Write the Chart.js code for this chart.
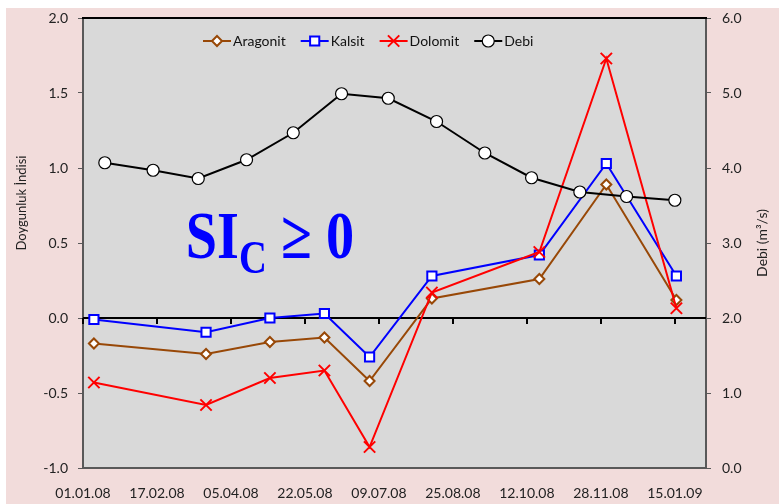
<!DOCTYPE html>
<html>
<head>
<meta charset="utf-8">
<script src="https://cdn.jsdelivr.net/npm/chart.js@4.4.0/dist/chart.umd.min.js"></script>
<style>
  html, body { margin: 0; padding: 0; background: #fff; }
  #wrap { position: absolute; left: 6px; top: 8px; width: 773px; height: 496px; background: #f2dcdb; }
</style>
</head>
<body>
<div id="wrap"><canvas id="chart"></canvas></div>
<script>
// ── Data ──────────────────────────────────────────────────────────────────
const siDates  = ['2008-01-08', '2008-03-20', '2008-04-30', '2008-06-04', '2008-07-03',
                  '2008-08-12', '2008-10-20', '2008-12-02', '2009-01-16'];
const aragonit = [-0.17, -0.24, -0.16, -0.13, -0.42, 0.13, 0.26, 0.89, 0.12];
const kalsit   = [-0.01, -0.095, 0.00, 0.03, -0.26, 0.28, 0.42, 1.03, 0.28];
const dolomit  = [-0.43, -0.58, -0.40, -0.35, -0.86, 0.17, 0.44, 1.73, 0.065];

const debiDates = ['2008-01-15', '2008-02-15', '2008-03-15', '2008-04-15', '2008-05-15',
                   '2008-06-15', '2008-07-15', '2008-08-15', '2008-09-15', '2008-10-15',
                   '2008-11-15', '2008-12-15', '2009-01-15'];
const debi      = [4.07, 3.97, 3.86, 4.11, 4.47, 4.99, 4.93, 4.62, 4.20, 3.87, 3.68, 3.62, 3.57];

const xTickLabels = ['01.01.08', '17.02.08', '05.04.08', '22.05.08', '09.07.08',
                     '25.08.08', '12.10.08', '28.11.08', '15.01.09'];
const xTickStep = 47.5;   // days
const xMaxDays  = 400;

const seriesNames = ['Aragonit', 'Kalsit', 'Dolomit', 'Debi'];
const leftTitle   = 'Doygunluk İndisi';
const rightTitle  = 'Debi (m³/s)';

// ── Helpers ───────────────────────────────────────────────────────────────
const DAY0  = Date.UTC(2008, 0, 1);
const toDay = s => (Date.parse(s + 'T00:00:00Z') - DAY0) / 86400000;
const pts   = (dates, vals) => dates.map((d, i) => ({ x: toDay(d), y: vals[i] }));

const FONT = 'Lato, "Open Sans", sans-serif';
Chart.defaults.font.family = FONT;
Chart.defaults.font.size   = 14;
Chart.defaults.color       = '#222';

const styles = [
  { color: '#984807', pointStyle: 'rectRot',  radius: 5,   bw: 2 },
  { color: '#0000ff', pointStyle: 'rect',     radius: 6.5, bw: 2 },
  { color: '#ff0000', pointStyle: 'crossRot', radius: 8,   bw: 2 },
  { color: '#000000', pointStyle: 'circle',   radius: 6,   bw: 1.2 },
];

function series(i, data, axis, order) {
  const s = styles[i];
  return {
    label: seriesNames[i],
    data,
    yAxisID: axis,
    order,
    borderColor: s.color,
    borderWidth: 2,
    pointStyle: s.pointStyle,
    pointRadius: s.radius,
    pointBorderColor: s.color,
    pointBackgroundColor: '#fff',
    pointBorderWidth: s.bw,
    tension: 0,
  };
}

function marker(ctx, s, x, y) {
  const r = s.radius;
  ctx.beginPath();
  if (s.pointStyle === 'rectRot') {
    ctx.moveTo(x - r, y); ctx.lineTo(x, y - r); ctx.lineTo(x + r, y); ctx.lineTo(x, y + r); ctx.closePath();
  } else if (s.pointStyle === 'rect') {
    const h = r * Math.SQRT1_2;
    ctx.rect(x - h, y - h, 2 * h, 2 * h);
  } else if (s.pointStyle === 'crossRot') {
    const h = r * Math.SQRT1_2;
    ctx.moveTo(x - h, y - h); ctx.lineTo(x + h, y + h);
    ctx.moveTo(x - h, y + h); ctx.lineTo(x + h, y - h);
  } else {
    ctx.arc(x, y, r, 0, Math.PI * 2);
  }
  ctx.fillStyle = '#fff';
  ctx.strokeStyle = s.color;
  ctx.lineWidth = s.bw;
  if (s.pointStyle !== 'crossRot') ctx.fill();
  ctx.stroke();
}

// fixed axis sizes so the plot area lands where the original has it
const fixY = w => s => { s.width = w; s.paddingTop = 0; s.paddingBottom = 0; };

// ── Extra drawing: plot bg, zero line, legend, titles, SI text ────────────
const decor = {
  id: 'decor',
  beforeDraw(chart) {
    const { ctx, chartArea: a } = chart;
    ctx.save();
    ctx.fillStyle = '#d9d9d9';
    ctx.fillRect(a.left, a.top, a.right - a.left, a.bottom - a.top);
    ctx.restore();
  },
  beforeDatasetsDraw(chart) {
    const { ctx, chartArea: a, scales } = chart;
    const y0 = Math.round(scales.y.getPixelForValue(0));
    ctx.save();
    ctx.strokeStyle = '#000';
    ctx.lineWidth = 2;
    ctx.beginPath();
    ctx.moveTo(a.left, y0); ctx.lineTo(a.right, y0);
    scales.x.ticks.forEach(t => {
      const px = Math.round(scales.x.getPixelForValue(t.value));
      ctx.moveTo(px, y0); ctx.lineTo(px, y0 + 6);
    });
    ctx.stroke();
    // top border
    ctx.beginPath();
    ctx.moveTo(a.left - 1, a.top); ctx.lineTo(a.right + 1, a.top);
    ctx.stroke();

    // SI_C >= 0
    const xs = scales.x, ys = scales.y;
    ctx.fillStyle = '#0000ff';
    ctx.textBaseline = 'alphabetic';
    ctx.textAlign = 'left';
    ctx.translate(xs.getPixelForValue(66), ys.getPixelForValue(0.4));
    ctx.scale(0.84, 1);
    ctx.font = 'bold 67px "Liberation Serif"';
    ctx.fillText('SI', 0, 0);
    let w = ctx.measureText('SI').width;
    ctx.font = 'bold 46px "Liberation Serif"';
    ctx.fillText('C', w, 15);
    w += ctx.measureText('C').width;
    ctx.font = 'bold 67px "Liberation Serif"';
    ctx.fillText(' ≥ 0', w, 0);
    ctx.restore();
  },
  afterDraw(chart) {
    const { ctx, chartArea: a } = chart;
    ctx.save();
    // legend
    ctx.font = '14px ' + FONT;
    ctx.textBaseline = 'middle';
    ctx.textAlign = 'left';
    let x = a.left + 120;
    const y = a.top + 23;
    seriesNames.forEach((name, i) => {
      const s = styles[i];
      ctx.strokeStyle = s.color;
      ctx.lineWidth = 2;
      ctx.beginPath();
      ctx.moveTo(x, y); ctx.lineTo(x + 28, y);
      ctx.stroke();
      marker(ctx, s, x + 14, y);
      ctx.fillStyle = '#111';
      ctx.fillText(name, x + 30, y);
      x += 30 + ctx.measureText(name).width + 15;
    });
    // axis titles
    ctx.fillStyle = '#222';
    ctx.textAlign = 'center';
    ctx.save();
    ctx.font = '13px ' + FONT;
    ctx.translate(a.left - 61, a.top + 185);
    ctx.rotate(-Math.PI / 2);
    ctx.fillText(leftTitle, 0, 0);
    ctx.restore();
    ctx.save();
    ctx.font = '14px ' + FONT;
    ctx.translate(a.right + 56, (a.top + a.bottom) / 2);
    ctx.rotate(-Math.PI / 2);
    ctx.fillText(rightTitle, 0, 0);
    ctx.restore();
    ctx.restore();
  },
};

// ── Chart ─────────────────────────────────────────────────────────────────
new Chart(document.getElementById('chart'), {
  type: 'line',
  data: {
    datasets: [
      series(0, pts(siDates, aragonit), 'y', 3),
      series(1, pts(siDates, kalsit), 'y', 2),
      series(2, pts(siDates, dolomit), 'y', 1),
      series(3, pts(debiDates, debi), 'y1', 0),
    ],
  },
  options: {
    responsive: true,
    maintainAspectRatio: false,
    animation: false,
    layout: { padding: { top: 9, left: 0, right: 0, bottom: 0 } },
    plugins: { legend: { display: false }, tooltip: { enabled: false } },
    scales: {
      x: {
        type: 'linear',
        min: 0,
        max: xMaxDays,
        afterBuildTicks: s => { s.ticks = xTickLabels.map((_, i) => ({ value: i * xTickStep })); },
        afterFit: s => { s.height = 36; s.paddingLeft = 0; s.paddingRight = 0; },
        ticks: { callback: (v, i) => xTickLabels[i], padding: 17, maxRotation: 0, autoSkip: false },
        grid: { drawOnChartArea: false, drawTicks: false },
        border: { color: '#595959', width: 2 },
      },
      y: {
        position: 'left',
        min: -1, max: 2,
        afterFit: fixY(77),
        ticks: { stepSize: 0.5, padding: 10, callback: v => v.toFixed(1) },
        grid: { drawOnChartArea: false, tickLength: 5, tickColor: '#595959' },
        border: { color: '#595959', width: 2 },
      },
      y1: {
        position: 'right',
        min: 0, max: 6,
        afterFit: fixY(73),
        ticks: { stepSize: 1, padding: 11, callback: v => v.toFixed(1) },
        grid: { drawOnChartArea: false, tickLength: 5, tickColor: '#595959' },
        border: { color: '#595959', width: 2 },
      },
    },
  },
  plugins: [decor],
});
</script>
</body>
</html>
